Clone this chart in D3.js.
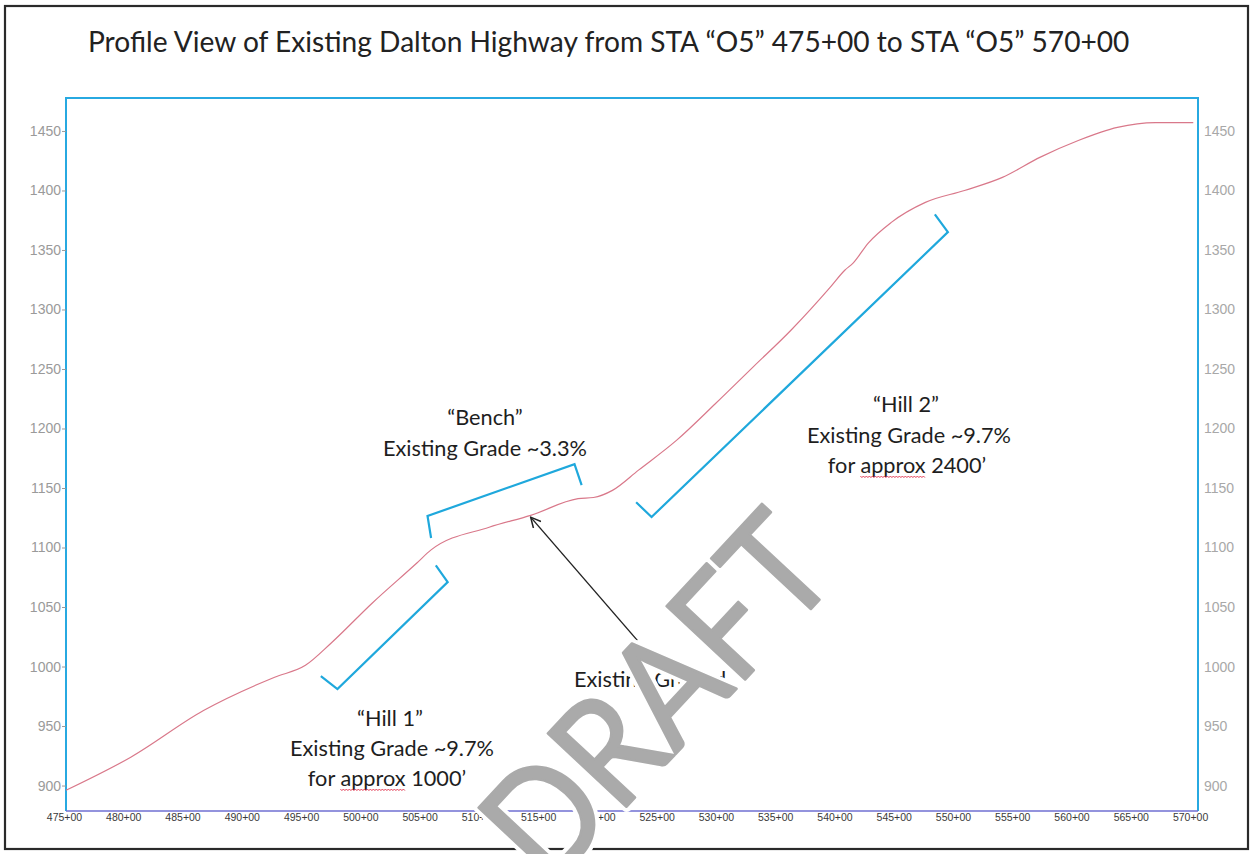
<!DOCTYPE html>
<html><head><meta charset="utf-8">
<script src="https://cdn.jsdelivr.net/npm/d3@7"></script>
<style>body{margin:0;background:#fff;} svg{display:block}</style>
</head><body><svg id="c" width="1251" height="854"></svg>
<script>
// ---- data ----
const stations   = [475.0, 480.5, 486.6, 492.6, 495.2, 497.4, 500.8, 504.6, 505.8, 510.7, 514.2, 518.2, 519.5, 521.1, 523.3, 526.5, 529.8, 533.0, 536.2, 539.5, 540.7, 541.4, 542.7, 544.6, 547.5, 550.8, 554.0, 557.2, 560.4, 563.7, 566.9, 570.1];
const elevations = [896, 924, 963, 991, 1001, 1020, 1053, 1087, 1098, 1117, 1127, 1141, 1142, 1148, 1165, 1190, 1221, 1252, 1283, 1319, 1333, 1339, 1356, 1373, 1390, 1400, 1411, 1428, 1442, 1453, 1457, 1457];

const xTickStations = [475, 480, 485, 490, 495, 500, 505, 510, 515, 520, 525, 530, 535, 540, 545, 550, 555, 560, 565, 570];
const xTickLabels = ["475+00","480+00","485+00","490+00","495+00","500+00","505+00","510+00","515+00","520+00","525+00","530+00","535+00","540+00","545+00","550+00","555+00","560+00","565+00","570+00"];
const yTicks = [900, 950, 1000, 1050, 1100, 1150, 1200, 1250, 1300, 1350, 1400, 1450];

// annotation brackets (station, elevation)
const hill1BracketSta  = [496.5, 497.9, 507.2, 506.2];
const hill1BracketElev = [992, 981, 1071, 1085];
const benchBracketSta  = [505.8, 505.5, 517.9, 518.5];
const benchBracketElev = [1108, 1126.5, 1170, 1152.5];
const hill2BracketSta  = [523.1, 524.4, 549.4, 548.3];
const hill2BracketElev = [1138, 1125.6, 1365, 1380];
const arrowSta  = [523.2, 514.2];
const arrowElev = [1022, 1125.5];

const title = "Profile View of Existing Dalton Highway from STA \u201CO5\u201D 475+00 to STA \u201CO5\u201D 570+00";

// ---- drawing ----
const svg = d3.select("#c");
svg.append("rect").attr("width",1251).attr("height",854).attr("fill","#fff");
svg.append("rect").attr("x",5).attr("y",6).attr("width",1243).attr("height",843)
  .attr("fill","none").attr("stroke","#2a2a2a").attr("stroke-width",2.2);

const L=66, R=1198, T=98, B=811;
const x = d3.scaleLinear().domain([475, 570.5]).range([L, R]);
const y = d3.scaleLinear().domain([878.6, 1477.7]).range([B, T]);

const FONT = "Lato, 'Open Sans', sans-serif";

// title
const tt = svg.append("text").attr("x",88).attr("y",52).attr("font-family",FONT)
  .attr("font-size",27).attr("fill","#222").text(title);
function fit(sel, w){ const l = sel.node().getComputedTextLength(); const fs=parseFloat(sel.attr("font-size")); sel.attr("font-size", fs*w/l); return fs*w/l; }
fit(tt, 1042);

// plot border
svg.append("path").attr("d",`M${L},${B}V${T}H${R}V${B}`).attr("fill","none")
  .attr("stroke","#27a9e1").attr("stroke-width",2);
svg.append("line").attr("x1",L).attr("x2",R).attr("y1",B).attr("y2",B)
  .attr("stroke","#6f6fd2").attr("stroke-width",1.6);

// axes
const AXF = "'Liberation Sans', Arial, sans-serif";
const axL = svg.append("g").attr("transform",`translate(${L},0)`)
  .call(d3.axisLeft(y).tickValues(yTicks).tickFormat(d3.format("d")).tickSize(4).tickPadding(1));
const axR = svg.append("g").attr("transform",`translate(${R},0)`)
  .call(d3.axisRight(y).tickValues(yTicks).tickFormat(d3.format("d")).tickSize(0).tickPadding(6));
const axB = svg.append("g").attr("transform",`translate(0,${B})`)
  .call(d3.axisBottom(x).tickValues(xTickStations).tickFormat((d,i)=>xTickLabels[i]).tickSize(0).tickPadding(3));
[axL,axR,axB].forEach(a=>a.select(".domain").remove());
axL.selectAll("text").attr("fill","#9a9a9a").attr("font-size",14).attr("font-family",AXF);
axL.selectAll("line").attr("stroke","#9a9a9a");
axR.selectAll("text").attr("fill","#a8a8a8").attr("font-size",14).attr("font-family",AXF);
axB.selectAll("text").attr("fill","#3a3a3a").attr("font-size",10.5).attr("dx",-2).attr("font-family",AXF);

// profile line
const pts = stations.map((s,i)=>[s, elevations[i]]);
svg.append("path").datum(pts)
  .attr("d", d3.line().x(d=>x(d[0])).y(d=>y(d[1])).curve(d3.curveMonotoneX))
  .attr("fill","none").attr("stroke","#d9788a").attr("stroke-width",1.2);

// brackets
const bline = d3.line().x(d=>x(d[0])).y(d=>y(d[1]));
[[hill1BracketSta,hill1BracketElev],[benchBracketSta,benchBracketElev],[hill2BracketSta,hill2BracketElev]].forEach(([s,e])=>{
  svg.append("path").datum(s.map((v,i)=>[v,e[i]])).attr("d",bline)
    .attr("fill","none").attr("stroke","#1fa8dc").attr("stroke-width",2.2).attr("stroke-linejoin","miter");
});

// arrow
svg.append("defs").append("marker").attr("id","ah").attr("viewBox","0 0 12 12")
  .attr("refX",11).attr("refY",6).attr("markerWidth",12).attr("markerHeight",12)
  .attr("markerUnits","userSpaceOnUse").attr("orient","auto")
  .append("path").attr("d","M1,1 L11,6 L1,11").attr("fill","none").attr("stroke","#222").attr("stroke-width",1.5);
svg.append("line").attr("x1",x(arrowSta[0])).attr("y1",y(arrowElev[0]))
  .attr("x2",x(arrowSta[1])).attr("y2",y(arrowElev[1]))
  .attr("stroke","#222").attr("stroke-width",1.4).attr("marker-end","url(#ah)");

// annotation text
const probe = svg.append("text").attr("font-family",FONT).attr("font-size",20).text("Existing Grade ~9.7%");
const AFS = fit(probe, 204); probe.remove();
function label(cx, yb, str, anchor){
  return svg.append("text").attr("x",cx).attr("y",yb).attr("text-anchor",anchor||"middle")
    .attr("font-family",FONT).attr("font-size",AFS).attr("fill","#1e1e1e").text(str);
}
function squiggle(t, i0, i1){
  const n=t.node(); const a=n.getStartPositionOfChar(i0).x, b=n.getEndPositionOfChar(i1).x;
  const yb=+t.attr("y")+3; let d=`M${a},${yb}`; let k=0;
  for(let p=a+1.5;p<=b;p+=1.5){ d+=`L${p},${yb+(k%2?0:1.6)}`; k++; }
  svg.append("path").attr("d",d).attr("fill","none").attr("stroke","#e0304a").attr("stroke-width",0.9);
}
label(485,425,"\u201CBench\u201D");
label(485,456,"Existing Grade ~3.3%");
label(906,412,"\u201CHill 2\u201D");
label(909,443,"Existing Grade ~9.7%");
const h2 = label(907,473,"for approx 2400\u2019"); squiggle(h2,4,9);
label(390,726,"\u201CHill 1\u201D");
label(392,756,"Existing Grade ~9.7%");
const h1 = label(387,786,"for approx 1000\u2019"); squiggle(h1,4,9);
label(574,687,"Existing Ground","start");

// watermark (white halo + gray letters)
const wm = (g)=>g.attr("transform","translate(656,696) rotate(-47)")
  .attr("text-anchor","middle").attr("dy","0.36em")
  .attr("font-family",FONT).attr("font-size",150)
  .attr("textLength",430).attr("lengthAdjust","spacingAndGlyphs").text("DRAFT");
svg.append("text").call(wm).attr("fill","#fff").attr("stroke","#fff").attr("stroke-width",11).attr("stroke-linejoin","round");
svg.append("text").call(wm).attr("fill","#aaaaaa").attr("stroke","#aaaaaa").attr("stroke-width",2.5).attr("stroke-linejoin","round");
</script></body></html>
